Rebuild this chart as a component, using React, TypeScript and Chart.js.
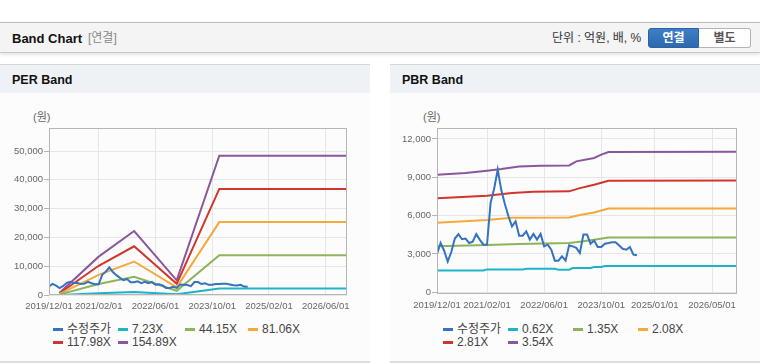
import React, { useEffect, useRef } from "react";
import { Chart, registerables } from "chart.js";

Chart.register(...registerables);

const FONT = "'Liberation Sans', Arial, 'Noto Sans CJK KR', sans-serif";

// ---- axis / category data ----
const START_MONTH = "2019/12";
const END_MONTH = "2026/12";

const perXTickLabels = ["2019/12/01", "2021/02/01", "2022/06/01", "2023/10/01", "2025/02/01", "2026/06/01"];
const pbrXTickLabels = ["2019/12/01", "2021/02/01", "2022/06/01", "2023/10/01", "2025/01/01", "2026/05/01"];
const perYTicks = [0, 10000, 20000, 30000, 40000, 50000];
const pbrYTicks = [0, 3000, 6000, 9000, 12000];

const priceLabel = "수정주가";
const perBandLabels = ["7.23X", "44.15X", "81.06X", "117.98X", "154.89X"];
const pbrBandLabels = ["0.62X", "1.35X", "2.08X", "2.81X", "3.54X"];
const seriesColors = ["#3572c0", "#1fb3c8", "#8db45a", "#f5a83b", "#d1352c", "#8c569e"];

// ---- 수정주가 (monthly, from 2019/12) ----
const priceMonthly = [
  3000, 3850, 3250, 2400, 3150, 4200, 4550, 4150, 4200, 3850, 3950, 4550, 4100, 3720, 3720,
  7000, 8100, 9600, 8000, 6900, 5950, 5160, 5550, 4430, 4430, 4770, 4120, 4560, 4120, 4560,
  3590, 3725, 3330, 2470, 2470, 2810, 2470, 3670, 3590, 3470, 3070, 4510, 4510, 3800, 4050,
  3540, 3540, 3800, 3850, 3910, 3910, 3650, 3400, 3330, 3540, 2940, 2890,
];

// ---- PER band ----
const perBandMonths = ["2020/03", "2021/02", "2021/12", "2022/12", "2023/12", "2026/12"];
const perBand723 = [36, 622, 1038, 239, 2258, 2258];
const perBand4415 = [221, 3797, 6336, 1457, 13788, 13788];
const perBand8106 = [405, 6971, 11632, 2675, 25315, 25315];
const perBand11798 = [590, 10146, 16930, 3893, 36845, 36845];
const perBand15489 = [774, 13321, 22227, 5111, 48373, 48373];

// ---- PBR band ----
const pbrBand062: [string, number][] = [
  ["2019/12", 1708], ["2021/01", 1708], ["2021/02", 1786], ["2021/12", 1786], ["2022/01", 1840],
  ["2022/09", 1840], ["2022/10", 1762], ["2023/01", 1762], ["2023/02", 1895], ["2023/07", 1895],
  ["2023/08", 1974], ["2023/10", 1974], ["2023/11", 2052], ["2026/12", 2052],
];
const pbrBand135: [string, number][] = [
  ["2019/12", 3590], ["2021/02", 3690], ["2021/11", 3780], ["2023/01", 3850], ["2023/04", 3950],
  ["2023/08", 4100], ["2023/12", 4290], ["2026/12", 4290],
];
const pbrBand208: [string, number][] = [
  ["2019/12", 5440], ["2021/02", 5650], ["2021/09", 5830], ["2023/01", 5860], ["2023/04", 6050],
  ["2023/08", 6250], ["2023/12", 6560], ["2026/12", 6560],
];
const pbrBand281: [string, number][] = [
  ["2019/12", 7350], ["2021/02", 7560], ["2021/09", 7770], ["2022/03", 7870], ["2023/01", 7900],
  ["2023/04", 8150], ["2023/08", 8420], ["2023/12", 8730], ["2026/12", 8740],
];
const pbrBand354: [string, number][] = [
  ["2019/12", 9200], ["2020/08", 9340], ["2021/02", 9520], ["2021/06", 9650], ["2021/11", 9850],
  ["2022/05", 9910], ["2023/01", 9930], ["2023/03", 10250], ["2023/08", 10510], ["2023/10", 10770],
  ["2023/12", 10980], ["2026/12", 11000],
];

function mi(label: string): number {
  const [y, m] = label.split("/").map(Number);
  const [sy, sm] = START_MONTH.split("/").map(Number);
  return (y - sy) * 12 + (m - sm);
}

const pricePoints = priceMonthly.map((v, i) => ({ x: i, y: v }));
const fromArrays = (months: string[], vals: number[]) => months.map((m, i) => ({ x: mi(m), y: vals[i] }));
const fromPairs = (pairs: [string, number][]) => pairs.map(([m, v]) => ({ x: mi(m), y: v }));

const perSeries = [
  { label: priceLabel, data: pricePoints },
  { label: perBandLabels[0], data: fromArrays(perBandMonths, perBand723) },
  { label: perBandLabels[1], data: fromArrays(perBandMonths, perBand4415) },
  { label: perBandLabels[2], data: fromArrays(perBandMonths, perBand8106) },
  { label: perBandLabels[3], data: fromArrays(perBandMonths, perBand11798) },
  { label: perBandLabels[4], data: fromArrays(perBandMonths, perBand15489) },
];
const pbrSeries = [
  { label: priceLabel, data: pricePoints },
  { label: pbrBandLabels[0], data: fromPairs(pbrBand062) },
  { label: pbrBandLabels[1], data: fromPairs(pbrBand135) },
  { label: pbrBandLabels[2], data: fromPairs(pbrBand208) },
  { label: pbrBandLabels[3], data: fromPairs(pbrBand281) },
  { label: pbrBandLabels[4], data: fromPairs(pbrBand354) },
];

const boxPlugin = {
  id: "plotBox",
  afterDatasetsDraw(chart: any) {
    const { ctx, chartArea: a } = chart;
    ctx.save();
    ctx.strokeStyle = "#b5b5b5";
    ctx.lineWidth = 1;
    const l = Math.round(a.left) + 0.5;
    const t = Math.round(a.top) + 0.5;
    const r = Math.round(a.right) - 0.5;
    const b = Math.round(a.bottom) - 0.5;
    ctx.strokeRect(l, t, r - l, b - t);
    ctx.restore();
  },
};

type ChartProps = {
  series: { label: string; data: { x: number; y: number }[] }[];
  xTickLabels: string[];
  yTicks: number[];
  yMin: number;
  yMax: number;
  yAxisWidth: number;
  padRight: number;
  padTop: number;
  xAxisHeight: number;
  left: number;
  top: number;
  width: number;
  height: number;
};

function BandCanvas(p: ChartProps) {
  const ref = useRef<HTMLCanvasElement | null>(null);
  useEffect(() => {
    if (!ref.current) return;
    const tickFont = { family: FONT, size: 9.5 };
    const xTickMonths = p.xTickLabels.map((s) => mi(s.slice(0, 7)));
    const chart = new Chart(ref.current, {
      type: "line",
      data: {
        datasets: p.series.map((s, i) => ({
          label: s.label,
          data: s.data,
          borderColor: seriesColors[i],
          backgroundColor: seriesColors[i],
          borderWidth: 2,
          pointRadius: 0,
          tension: 0,
          fill: false,
        })),
      },
      options: {
        animation: false,
        responsive: false,
        maintainAspectRatio: false,
        layout: { padding: { left: 0, right: p.padRight, top: p.padTop, bottom: 0 } },
        plugins: { legend: { display: false }, tooltip: { enabled: false } },
        scales: {
          x: {
            type: "linear",
            min: 0,
            max: mi(END_MONTH),
            afterBuildTicks: (s: any) => {
              s.ticks = xTickMonths.map((v) => ({ value: v }));
            },
            afterFit: (s: any) => {
              s.height = p.xAxisHeight;
            },
            ticks: {
              autoSkip: false,
              maxRotation: 0,
              padding: 6,
              color: "#666",
              font: tickFont,
              callback: (v: any) => {
                const idx = xTickMonths.indexOf(Number(v));
                return idx >= 0 ? p.xTickLabels[idx] : "";
              },
            },
            grid: { color: "#e6e6e6", drawTicks: false },
            border: { display: false },
          },
          y: {
            min: p.yMin,
            max: p.yMax,
            afterBuildTicks: (s: any) => {
              s.ticks = p.yTicks.map((v) => ({ value: v }));
            },
            afterFit: (s: any) => {
              s.width = p.yAxisWidth;
            },
            ticks: {
              padding: 1,
              color: "#666",
              font: tickFont,
              callback: (v: any) => Number(v).toLocaleString("en-US"),
            },
            grid: { color: "#e6e6e6", tickColor: "#b5b5b5", tickLength: 5, drawTicks: true },
            border: { display: false },
          },
        },
      } as any,
      plugins: [boxPlugin],
    });
    return () => chart.destroy();
  }, []);
  return (
    <canvas
      ref={ref}
      width={p.width}
      height={p.height}
      style={{ position: "absolute", left: p.left, top: p.top, width: p.width, height: p.height }}
    />
  );
}

function Legend({ items, left, top, cols }: { items: string[]; left: number; top: number; cols: number[] }) {
  return (
    <div
      style={{
        position: "absolute",
        left,
        top,
        display: "grid",
        gridTemplateColumns: cols.map((c) => c + "px").join(" "),
        rowGap: 0,
        fontFamily: FONT,
        fontSize: 12,
        color: "#444",
      }}
    >
      {items.map((it, i) => (
        <div key={it} style={{ display: "flex", alignItems: "center", height: 13, whiteSpace: "nowrap" }}>
          <span style={{ display: "inline-block", width: 10, height: 3, background: seriesColors[i], marginRight: 4 }} />
          <span style={{ lineHeight: "13px" }}>{it}</span>
        </div>
      ))}
    </div>
  );
}

function Panel({ left, title }: { left: number; title: string }) {
  return (
    <>
      <div
        style={{
          position: "absolute",
          left,
          top: 64,
          width: 370,
          height: 299,
          boxSizing: "border-box",
          borderTop: "1px solid #d6d6d6",
          borderBottom: "2px solid #dedede",
          background: "#fcfcfc",
        }}
      />
      <div
        style={{
          position: "absolute",
          left,
          top: 65,
          width: 370,
          height: 28,
          background: "#eef2f7",
        }}
      />
      <div
        style={{
          position: "absolute",
          left: left + 12,
          top: 72,
          fontFamily: FONT,
          fontSize: 12.5,
          fontWeight: "bold",
          color: "#111",
          lineHeight: "16px",
        }}
      >
        {title}
      </div>
      <div
        style={{
          position: "absolute",
          left: left + 33,
          top: 110,
          fontFamily: FONT,
          fontSize: 11,
          color: "#666",
          lineHeight: "14px",
        }}
      >
        (원)
      </div>
    </>
  );
}

export default function App() {
  return (
    <div
      style={{
        position: "fixed",
        left: 0,
        top: 0,
        width: 760,
        height: 364,
        background: "#fff",
        overflow: "hidden",
        fontFamily: FONT,
      }}
    >
      {/* header bar */}
      <div
        style={{
          position: "absolute",
          left: 0,
          top: 22,
          width: 760,
          height: 31,
          boxSizing: "border-box",
          background: "#f4f4f4",
          borderTop: "1px solid #b9b9b9",
          borderBottom: "1px solid #c6c6c6",
          boxShadow: "0 2px 3px rgba(0,0,0,0.10)",
        }}
      />
      <div style={{ position: "absolute", left: 12, top: 31, fontSize: 13, fontWeight: "bold", color: "#111", lineHeight: "15px" }}>
        Band Chart
      </div>
      <div style={{ position: "absolute", left: 88, top: 31, fontSize: 12, color: "#888", lineHeight: "15px" }}>[연결]</div>
      <div style={{ position: "absolute", left: 552, top: 31, fontSize: 12, color: "#333", lineHeight: "15px" }}>
        단위 : 억원, 배, %
      </div>
      <div
        style={{
          position: "absolute",
          left: 648,
          top: 28,
          width: 51,
          height: 20,
          boxSizing: "border-box",
          background: "linear-gradient(#3d7fc6, #2d69ae)",
          border: "1px solid #2a62a3",
          borderRadius: "3px 0 0 3px",
          color: "#fff",
          fontWeight: "bold",
          fontSize: 12,
          lineHeight: "18px",
          textAlign: "center",
        }}
      >
        연결
      </div>
      <div
        style={{
          position: "absolute",
          left: 699,
          top: 28,
          width: 52,
          height: 20,
          boxSizing: "border-box",
          background: "#fff",
          border: "1px solid #b4b4b4",
          borderLeft: "none",
          borderRadius: "0 3px 3px 0",
          color: "#555",
          fontWeight: "bold",
          fontSize: 12,
          lineHeight: "18px",
          textAlign: "center",
        }}
      >
        별도
      </div>

      <Panel left={0} title="PER Band" />
      <Panel left={390} title="PBR Band" />

      <BandCanvas
        series={perSeries}
        xTickLabels={perXTickLabels}
        yTicks={perYTicks}
        yMin={0}
        yMax={58000}
        yAxisWidth={49}
        padRight={23}
        padTop={28}
        xAxisHeight={15}
        left={0}
        top={100}
        width={370}
        height={210}
      />
      <BandCanvas
        series={pbrSeries}
        xTickLabels={pbrXTickLabels}
        yTicks={pbrYTicks}
        yMin={-140}
        yMax={12860}
        yAxisWidth={47}
        padRight={23}
        padTop={28}
        xAxisHeight={16}
        left={390}
        top={100}
        width={370}
        height={210}
      />

      <Legend items={[priceLabel, ...perBandLabels]} left={53} top={323} cols={[65, 67, 63, 60]} />
      <Legend items={[priceLabel, ...pbrBandLabels]} left={443} top={323} cols={[65, 65, 65, 60]} />
    </div>
  );
}
